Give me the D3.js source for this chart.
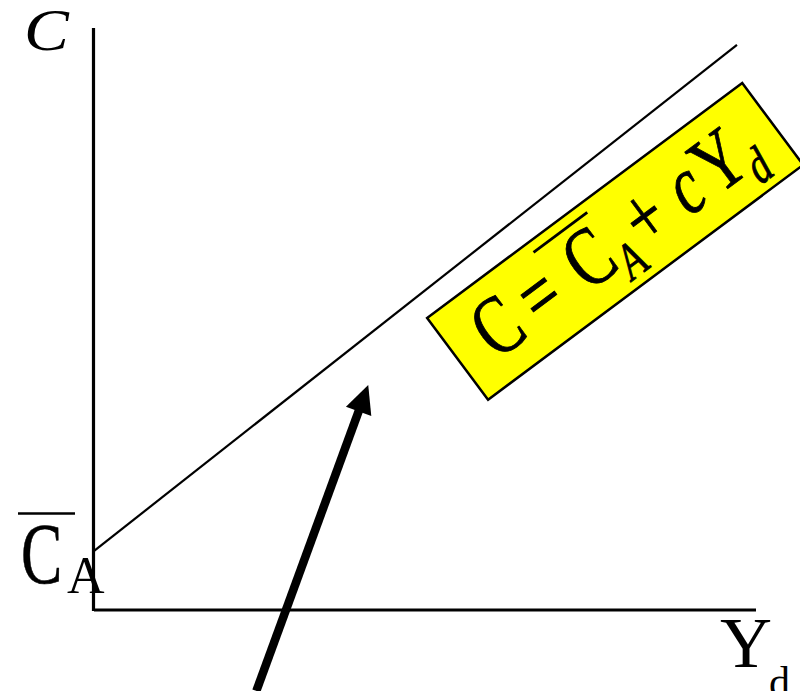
<!DOCTYPE html>
<html><head><meta charset="utf-8">
<script src="https://cdn.jsdelivr.net/npm/d3@7"></script>
<style>html,body{margin:0;padding:0;background:#fff;overflow:hidden}svg{display:block}</style>
</head><body>
<script>
// Data (conceptual consumption function)
const incomeYd = [0, 97.2];          // disposable income (x)
const consumptionC = [10, 97.1];     // consumption (y): C = C_A + c*Yd
const arrowFrom = [24.6, -14.0];
const arrowTo = [41.5, 38.6];
const labelCenter = [78.8, 63.3];
const labelAngle = -36.7;

const W = 800, H = 691;
const svg = d3.select("body").append("svg").attr("width", W).attr("height", H);
const x = d3.scaleLinear().domain([0, 100]).range([93.5, 755.5]);
const y = d3.scaleLinear().domain([0, 100]).range([609.5, 28]);
const serif = "Liberation Serif";

// axes
const gx = svg.append("g").attr("transform", `translate(0,${y(0)})`)
  .call(d3.axisBottom(x).tickValues([]).tickSizeOuter(0));
const gy = svg.append("g").attr("transform", `translate(${x(0)},0)`)
  .call(d3.axisLeft(y).tickValues([]).tickSizeOuter(0));
[gx, gy].forEach(g => g.select(".domain").attr("stroke", "#000").attr("stroke-width", 3.2));
gy.select(".domain").attr("d", `M0,${y(0) + 1.6}V${y(100)}`);

// consumption line
svg.append("path")
  .datum(incomeYd.map((v, i) => [v, consumptionC[i]]))
  .attr("d", d3.line().x(d => x(d[0])).y(d => y(d[1])))
  .attr("fill", "none").attr("stroke", "#000").attr("stroke-width", 2.2);

// arrow
{
  const x0 = x(arrowFrom[0]), y0 = y(arrowFrom[1]);
  const x1 = x(arrowTo[0]), y1 = y(arrowTo[1]);
  const dx = x1 - x0, dy = y1 - y0, L = Math.hypot(dx, dy);
  const ux = dx / L, uy = dy / L, px = -uy, py = ux;
  const hl = 28, hw = 13.5;
  const bx = x1 - ux * hl, by = y1 - uy * hl;
  svg.append("line").attr("x1", x0).attr("y1", y0).attr("x2", bx + ux * 2).attr("y2", by + uy * 2)
    .attr("stroke", "#000").attr("stroke-width", 8.5);
  svg.append("path")
    .attr("d", `M${x1},${y1}L${bx + px * hw},${by + py * hw}L${bx - px * hw},${by - py * hw}Z`)
    .attr("fill", "#000");
}

// yellow equation box
{
  const g = svg.append("g")
    .attr("transform", `translate(${x(labelCenter[0])},${y(labelCenter[1])}) rotate(${labelAngle})`);
  g.append("rect").attr("x", -196.5).attr("y", -51).attr("width", 393).attr("height", 102)
    .attr("fill", "#ffff00").attr("stroke", "#000").attr("stroke-width", 2.5);
  const t = (s, cx, cy, size, italic, sx) => g.append("text").text(s)
    .attr("transform", `translate(${cx},${cy}) scale(${sx},1)`).attr("text-anchor", "middle")
    .attr("font-family", serif).attr("font-size", size)
    .attr("font-style", italic ? "italic" : "normal").attr("fill", "#000")
    .attr("stroke", "#000").attr("stroke-width", 0.9);
  t("C", -145, 25, 84, false, 0.75);
  t("=", -93, 25, 84, false, 0.75);
  t("C", -31, 25, 84, false, 0.75);
  g.append("line").attr("x1", -72).attr("x2", -5).attr("y1", -40).attr("y2", -40)
    .attr("stroke", "#000").attr("stroke-width", 2.8);
  t("A", 2, 42, 52, true, 0.75);
  t("+", 38, 25, 84, false, 0.75);
  t("c", 88, 25, 84, true, 0.75);
  t("Y", 131, 25, 84, false, 0.75);
  t("d", 160, 42, 52, true, 0.75);
}

// axis labels
svg.append("text").text("C").attr("transform", "translate(24,50) scale(1.12,1)")
  .attr("font-family", serif).attr("font-size", 60).attr("font-style", "italic");
svg.append("text").text("C").attr("transform", "translate(21,583) scale(0.72,1)")
  .attr("font-family", serif).attr("font-size", 86).attr("stroke", "#000").attr("stroke-width", 0.6);
svg.append("line").attr("x1", 18).attr("x2", 75).attr("y1", 513.5).attr("y2", 513.5)
  .attr("stroke", "#000").attr("stroke-width", 2.5);
svg.append("text").text("A").attr("x", 67).attr("y", 593)
  .attr("font-family", serif).attr("font-size", 52);
svg.append("text").text("Y").attr("x", 720).attr("y", 667)
  .attr("font-family", serif).attr("font-size", 72);
svg.append("text").text("d").attr("x", 769).attr("y", 696)
  .attr("font-family", serif).attr("font-size", 42);
</script>
</body></html>
